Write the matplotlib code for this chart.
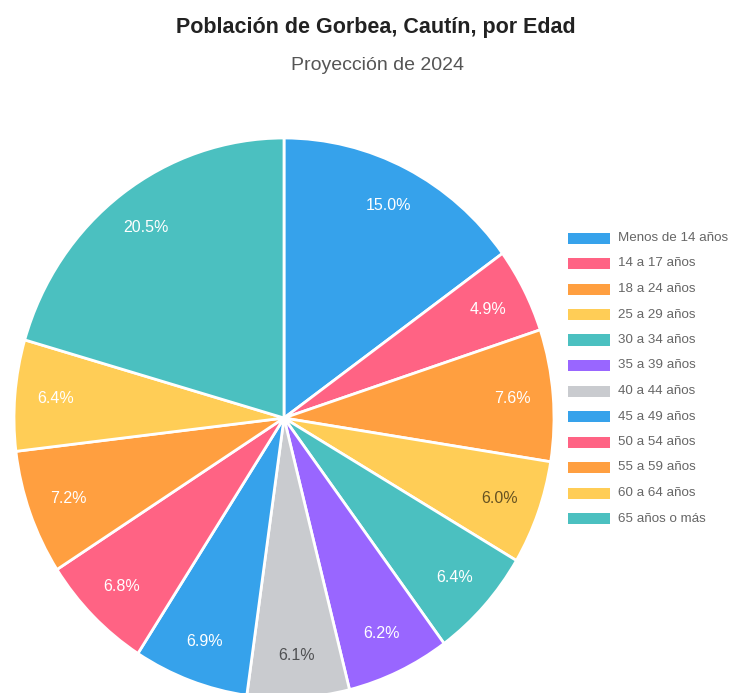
import matplotlib.pyplot as plt
from matplotlib.patches import Rectangle

plt.rcParams['font.family'] = ['Liberation Sans', 'DejaVu Sans']

labels = ['Menos de 14 años', '14 a 17 años', '18 a 24 años', '25 a 29 años',
          '30 a 34 años', '35 a 39 años', '40 a 44 años', '45 a 49 años',
          '50 a 54 años', '55 a 59 años', '60 a 64 años', '65 años o más']
values = [15.0, 4.9, 7.6, 6.0, 6.4, 6.2, 6.1, 6.9, 6.8, 7.2, 6.4, 20.5]
colors = ['#36A2EB', '#FF6384', '#FF9F40', '#FFCD56', '#4BC0C0', '#9966FF',
          '#C9CBCF', '#36A2EB', '#FF6384', '#FF9F40', '#FFCD56', '#4BC0C0']
label_colors = ['white', 'white', 'white', '#665222', 'white', 'white',
                '#505153', 'white', 'white', 'white', 'white', 'white']

W, H = 730, 693
fig = plt.figure(figsize=(W / 100, H / 100), dpi=100)

# pie axes: center ~(284, 418) px, rx 270, ry 280 (slightly stretched, cut at bottom)
cx, cy, rx, ry = 284, 418, 270, 280
ax = fig.add_axes([(cx - rx) / W, (H - cy - ry) / H, 2 * rx / W, 2 * ry / H])
wedges, texts, autotexts = ax.pie(
    values, colors=colors, startangle=90, counterclock=False,
    autopct='%.1f%%', pctdistance=0.85, radius=1,
    wedgeprops=dict(edgecolor='white', linewidth=2))
for t, c in zip(autotexts, label_colors):
    t.set_color(c)
    t.set_fontsize(11.5)
ax.set_xlim(-1, 1)
ax.set_ylim(-1, 1)
ax.set_aspect('auto')
ax.axis('off')

fig.text(376 / W, 1 - 28 / H, 'Población de Gorbea, Cautín, por Edad',
         ha='center', va='center', fontsize=15.5, fontweight='bold', color='#222222')
fig.text(377 / W, 1 - 66 / H, 'Proyección de 2024',
         ha='center', va='center', fontsize=14, color='#555555')

# legend
y0, step = 238, 25.5
for i, (lab, col) in enumerate(zip(labels, colors)):
    y = y0 + i * step
    fig.patches.append(Rectangle((568 / W, 1 - (y + 5.5) / H), 42 / W, 11 / H,
                                 transform=fig.transFigure, facecolor=col,
                                 edgecolor='none'))
    fig.text(618 / W, 1 - y / H, lab, ha='left', va='center',
             fontsize=9.6, color='#666666')

fig.savefig('out.png', dpi=100)
